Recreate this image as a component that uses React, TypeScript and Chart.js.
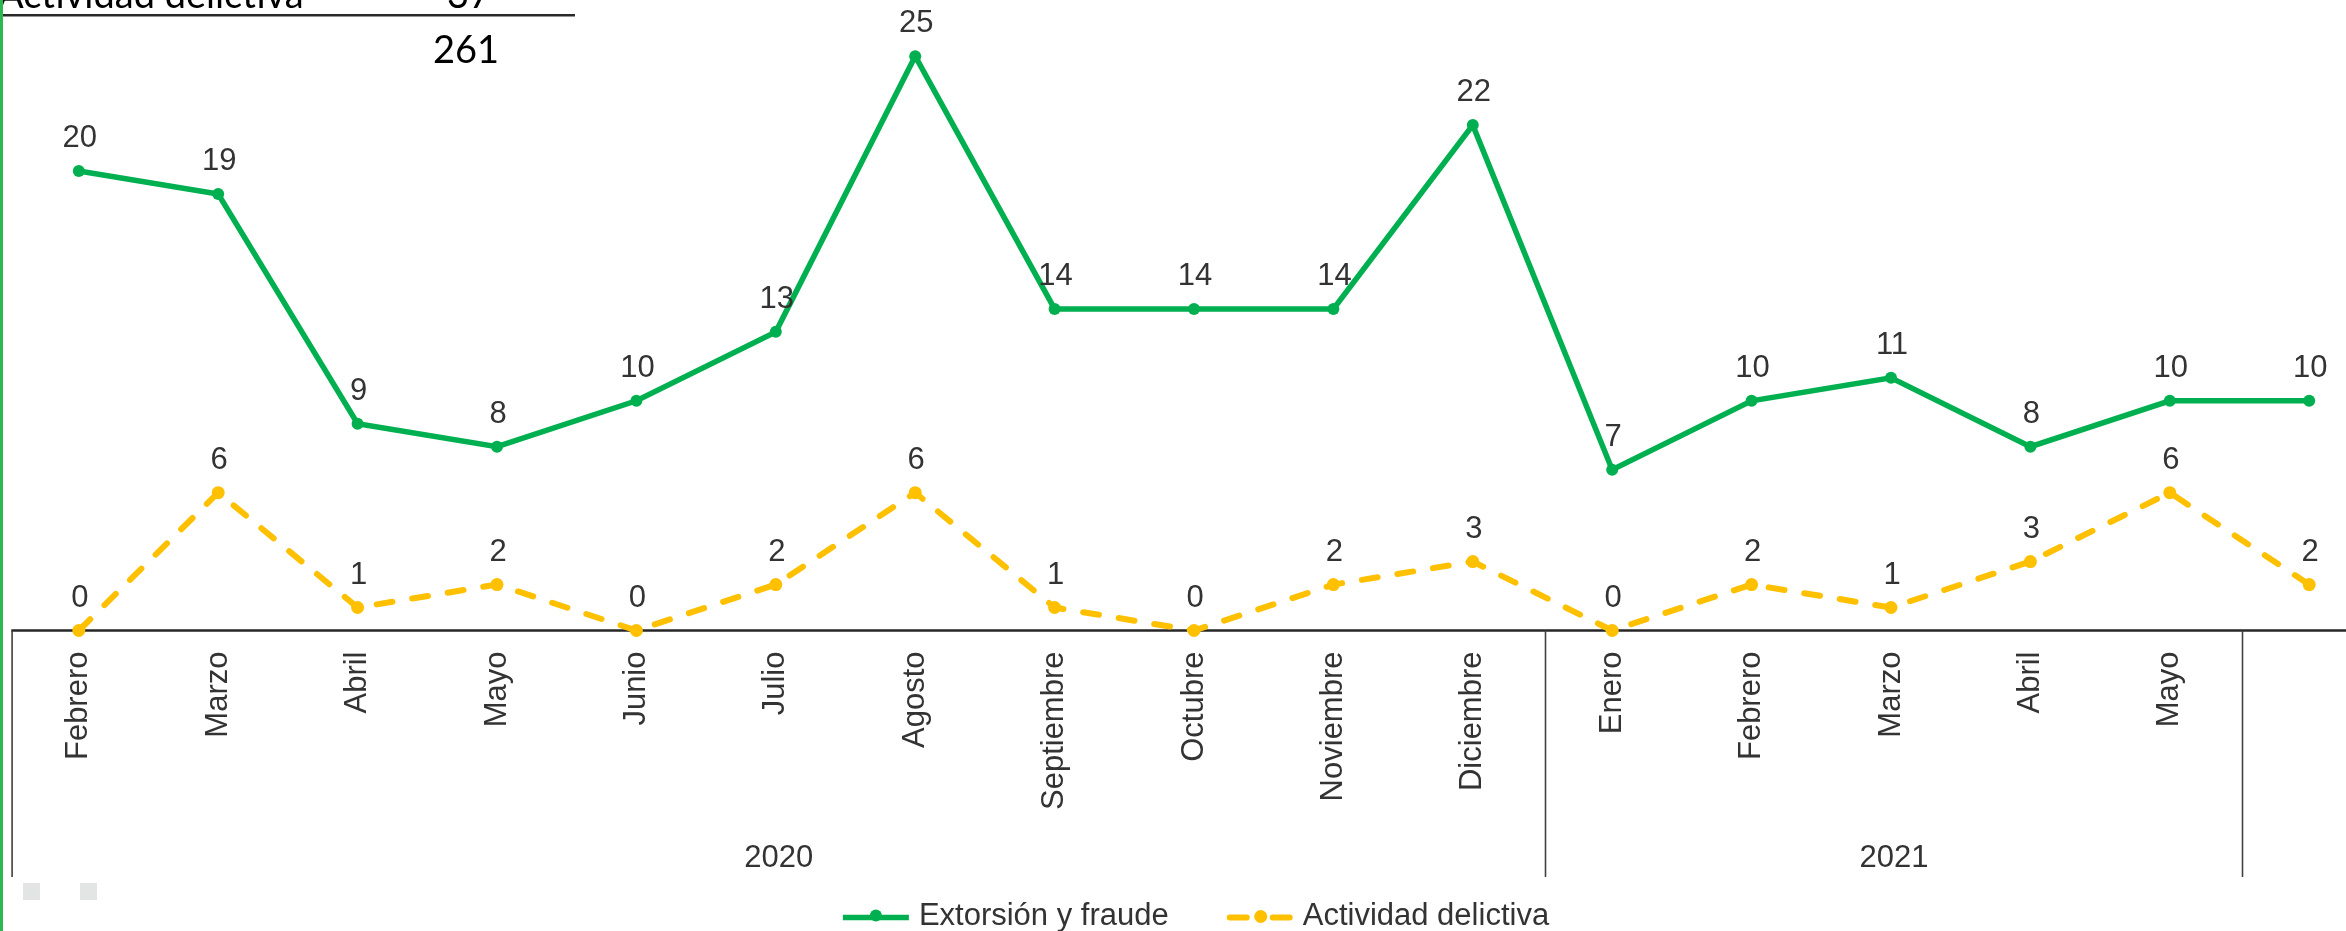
import React, { useEffect, useRef } from 'react';
import { Chart, registerables } from 'chart.js';

Chart.register(...registerables);

// ---- data ----
const months = [
  'Febrero', 'Marzo', 'Abril', 'Mayo', 'Junio', 'Julio', 'Agosto', 'Septiembre',
  'Octubre', 'Noviembre', 'Diciembre', 'Enero', 'Febrero', 'Marzo', 'Abril', 'Mayo', '',
];
const extorsion = [20, 19, 9, 8, 10, 13, 25, 14, 14, 14, 22, 7, 10, 11, 8, 10, 10];
const actividad = [0, 6, 1, 2, 0, 2, 6, 1, 0, 2, 3, 0, 2, 1, 3, 6, 2];
const yearLabels = ['2020', '2021', ''];
const yearSpans = [11, 5, 1];
const seriesNames = ['Extorsión y fraude', 'Actividad delictiva'];
const summaryLabel = 'Actividad delictiva';
const summaryValue = '37';
const summaryTotal = '261';

// ---- style ----
const GREEN = '#00B050';
const GOLD = '#FFC000';
const TEXT = '#333333';
const FONT = '"Liberation Sans", Arial, sans-serif';
const CELL_FONT = 'Lato, "Open Sans", sans-serif';
const W = 2392;
const H = 931;
const SEP_SHIFT = 3;

function groupBounds(chart: any): number[] {
  const xs = chart.scales.x;
  const area = chart.chartArea;
  const n = months.length;
  const bounds: number[] = [area.left + SEP_SHIFT];
  let start = 0;
  yearSpans.forEach((span) => {
    const end = start + span;
    if (end >= n) bounds.push(area.right + SEP_SHIFT);
    else bounds.push((xs.getPixelForValue(end - 1) + xs.getPixelForValue(end)) / 2 + SEP_SHIFT);
    start = end;
  });
  return bounds;
}

export default function App() {
  const ref = useRef<HTMLCanvasElement | null>(null);

  useEffect(() => {
    const canvas = ref.current;
    if (!canvas) return;

    const decor = {
      id: 'decor',
      beforeDatasetsDraw(chart: any) {
        const ctx = chart.ctx as CanvasRenderingContext2D;
        const area = chart.chartArea;
        const bounds = groupBounds(chart);
        ctx.save();
        ctx.strokeStyle = '#262626';
        ctx.lineWidth = 2.5;
        ctx.beginPath();
        ctx.moveTo(bounds[0] - 0.8, area.bottom);
        ctx.lineTo(W, area.bottom);
        ctx.stroke();
        ctx.restore();
      },
      afterDraw(chart: any) {
        const ctx = chart.ctx as CanvasRenderingContext2D;
        const area = chart.chartArea;
        ctx.save();

        // data labels
        ctx.font = `31px ${FONT}`;
        ctx.fillStyle = TEXT;
        ctx.textAlign = 'center';
        ctx.textBaseline = 'alphabetic';
        chart.data.datasets.forEach((ds: any, di: number) => {
          const meta = chart.getDatasetMeta(di);
          meta.data.forEach((pt: any, i: number) => {
            ctx.fillText(String(ds.data[i]), pt.x + 1, pt.y - 24);
          });
        });

        // multi-level category separators + year labels
        const sepBottom = 877;
        const bounds = groupBounds(chart);
        ctx.strokeStyle = '#404040';
        ctx.lineWidth = 1.6;
        bounds.forEach((b) => {
          ctx.beginPath();
          ctx.moveTo(b, area.bottom);
          ctx.lineTo(b, sepBottom);
          ctx.stroke();
        });
        ctx.fillStyle = TEXT;
        ctx.font = `31px ${FONT}`;
        ctx.textAlign = 'center';
        yearLabels.forEach((lab, i) => {
          if (!lab) return;
          ctx.fillText(lab, (bounds[i] + bounds[i + 1]) / 2, 867);
        });

        // legend
        ctx.font = `31px ${FONT}`;
        ctx.textAlign = 'left';
        const mW = 66;
        const gapT = 10;
        const gapI = 58;
        const t1 = ctx.measureText(seriesNames[0]).width;
        const t2 = ctx.measureText(seriesNames[1]).width;
        const total = mW + gapT + t1 + gapI + mW + gapT + t2;
        let lx = W / 2 - total / 2;
        const ly = 917.5;
        // green marker
        ctx.strokeStyle = GREEN;
        ctx.fillStyle = GREEN;
        ctx.lineWidth = 5.5;
        ctx.lineCap = 'butt';
        ctx.beginPath();
        ctx.moveTo(lx, ly);
        ctx.lineTo(lx + mW, ly);
        ctx.stroke();
        ctx.beginPath();
        ctx.arc(lx + mW / 2, ly - 2, 6, 0, Math.PI * 2);
        ctx.fill();
        ctx.fillStyle = TEXT;
        ctx.fillText(seriesNames[0], lx + mW + gapT, 925);
        lx += mW + gapT + t1 + gapI;
        // gold marker
        ctx.strokeStyle = GOLD;
        ctx.fillStyle = GOLD;
        ctx.lineWidth = 6;
        ctx.lineCap = 'round';
        ctx.beginPath();
        ctx.moveTo(lx + 3, ly);
        ctx.lineTo(lx + 20, ly);
        ctx.moveTo(lx + 46, ly);
        ctx.lineTo(lx + 63, ly);
        ctx.stroke();
        ctx.beginPath();
        ctx.arc(lx + 34, ly - 1, 6.5, 0, Math.PI * 2);
        ctx.fill();
        ctx.fillStyle = TEXT;
        ctx.fillText(seriesNames[1], lx + mW + gapT, 925);

        // spreadsheet surroundings
        ctx.fillStyle = '#000000';
        ctx.font = `38px ${CELL_FONT}`;
        ctx.textAlign = 'left';
        ctx.fillText(summaryLabel, -2, 8);
        ctx.fillText(summaryValue, 447, 8);
        ctx.fillText(summaryTotal, 433, 63);
        ctx.fillStyle = '#2a2a2a';
        ctx.fillRect(0, 14, 575, 2.5);
        ctx.fillStyle = '#2DB653';
        ctx.fillRect(0, 0, 3, H);
        ctx.fillStyle = '#e3e4e4';
        ctx.fillRect(23, 883, 17, 17);
        ctx.fillRect(80, 883, 17, 17);

        ctx.restore();
      },
    };

    const chart = new Chart(canvas, {
      type: 'line',
      data: {
        labels: months,
        datasets: [
          {
            label: seriesNames[0],
            data: extorsion,
            borderColor: GREEN,
            backgroundColor: GREEN,
            borderWidth: 5.5,
            pointRadius: 6,
            pointBackgroundColor: GREEN,
            pointBorderWidth: 0,
            tension: 0,
            clip: false,
          } as any,
          {
            label: seriesNames[1],
            data: actividad,
            borderColor: GOLD,
            backgroundColor: GOLD,
            borderWidth: 6,
            borderDash: [16, 20],
            borderCapStyle: 'round',
            pointRadius: 6.5,
            pointBackgroundColor: GOLD,
            pointBorderWidth: 0,
            tension: 0,
            clip: false,
          } as any,
        ],
      },
      options: {
        responsive: false,
        animation: false,
        devicePixelRatio: 1,
        events: [],
        layout: { padding: { left: 9.1, right: 13.1, top: 56.2, bottom: 0 } },
        plugins: { legend: { display: false }, tooltip: { enabled: false } },
        scales: {
          x: {
            type: 'category',
            offset: true,
            grid: { display: false, drawTicks: false },
            border: { display: false },
            ticks: {
              autoSkip: false,
              maxRotation: 90,
              minRotation: 90,
              padding: 21,
              color: TEXT,
              font: { family: FONT, size: 31 },
            },
            afterFit: (s: any) => {
              s.height = 300.5;
            },
          },
          y: { display: false, min: 0, max: 25 },
        },
      },
      plugins: [decor],
    });

    return () => chart.destroy();
  }, []);

  return (
    <div
      style={{
        position: 'fixed',
        left: 0,
        top: 0,
        width: 2346,
        height: 931,
        overflow: 'hidden',
        background: '#ffffff',
      }}
    >
      <canvas ref={ref} width={W} height={H} style={{ width: W, height: H, display: 'block' }} />
    </div>
  );
}
